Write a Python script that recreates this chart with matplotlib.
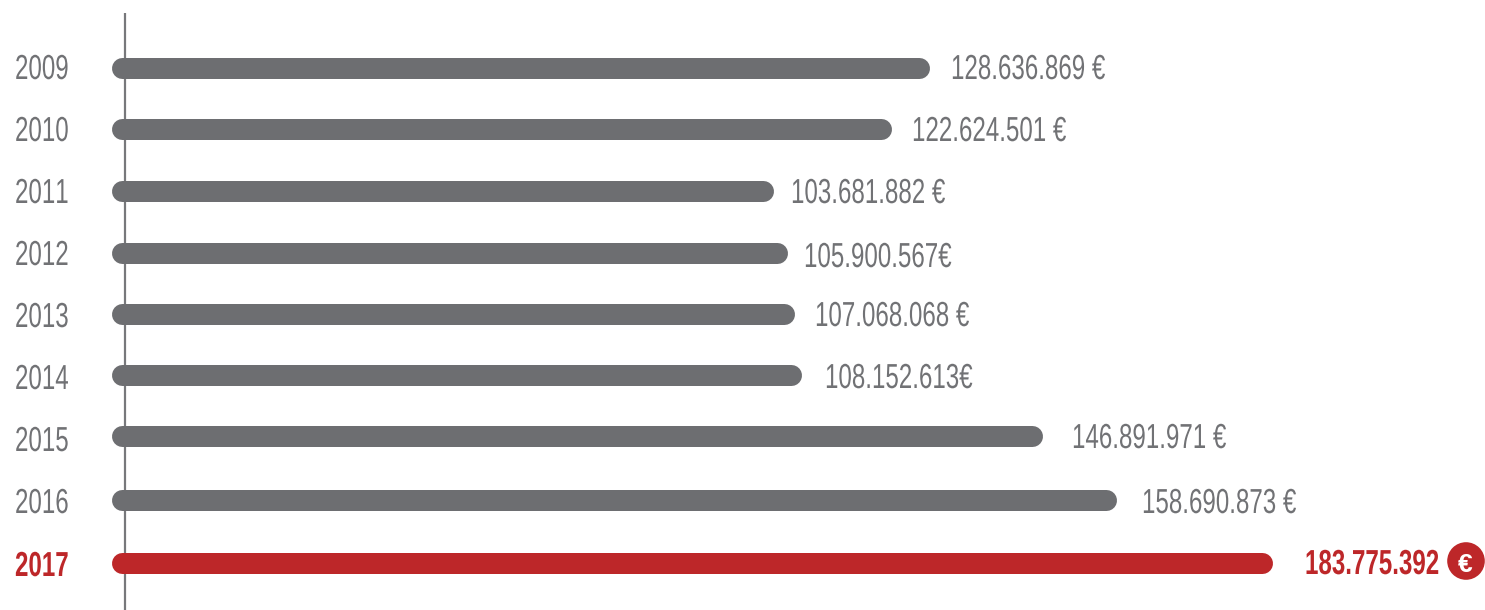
import matplotlib
matplotlib.use("Agg")
import matplotlib.pyplot as plt
from matplotlib.patches import Circle
from matplotlib.patheffects import AbstractPathEffect
from matplotlib.text import Text
from matplotlib.transforms import Affine2D, Bbox

plt.rcParams["text.kerning_factor"] = 6

years = ["2009", "2010", "2011", "2012", "2013", "2014", "2015", "2016", "2017"]
values = [128636869, 122624501, 103681882, 105900567, 107068068, 108152613, 146891971, 158690873, 183775392]
labels = ["128.636.869 €", "122.624.501 €", "103.681.882 €", "105.900.567€", "107.068.068 €",
          "108.152.613€", "146.891.971 €", "158.690.873 €", "183.775.392"]

bar_y = [68, 129, 191, 253, 314, 375, 436, 500, 563]
year_y = [66, 128, 190, 252, 314, 376, 438, 500, 563]
label_y = [66, 128, 190, 254, 313, 375, 435, 500, 561]
label_x = [951, 912, 791, 804, 815, 825, 1072, 1142, 1305]

GREY, RED, AXIS = "#6d6e71", "#bd2729", "#77787b"
TXT = "#717275"
FONT = ["Liberation Sans"]
W, H = 1485, 610
PX_PER_VAL = 6.22e-6
X0 = 129
SQUEEZE = 0.695


class Condense(AbstractPathEffect):
    """Draw text glyphs horizontally condensed (no condensed family is installed)."""
    def __init__(self, k):
        super().__init__()
        self.k = k

    def draw_path(self, renderer, gc, tpath, affine, rgbFace=None):
        renderer.draw_path(gc, tpath, Affine2D().scale(self.k, 1) + affine, rgbFace)


class NarrowText(Text):
    def _get_layout(self, renderer):
        b, info, descent = super()._get_layout(renderer)
        return Bbox.from_bounds(b.x0, b.y0, b.width * SQUEEZE, b.height), info, descent


fig = plt.figure(figsize=(W / 100, H / 100), dpi=100, facecolor="white")
ax = fig.add_axes([0, 0, 1, 1])
ax.set_xlim(-X0 / PX_PER_VAL, (W - X0) / PX_PER_VAL)
ax.set_ylim(H, 0)
ax.axis("off")

pxv = 1 / PX_PER_VAL
lw = 21 * 72 / 100


def label(x, y, s, bold):
    t = NarrowText(x, y, s, family=FONT, fontsize=25, color=RED if bold else TXT,
                   fontweight="bold" if bold else "normal", ha="left", va="center_baseline",
                   path_effects=[Condense(SQUEEZE)])
    ax.add_artist(t)


ax.plot([(125 - X0) * pxv] * 2, [13, 610], color=AXIS, lw=1.6, zorder=1, solid_capstyle="butt")
for i, v in enumerate(values):
    last = i == len(values) - 1
    ax.plot([(121.5 - X0) * pxv, v - 10.5 * pxv], [bar_y[i]] * 2, color=RED if last else GREY, lw=lw,
            solid_capstyle="round", zorder=2)
    label((15 - X0) * pxv, year_y[i], years[i], last)
    label((label_x[i] - X0) * pxv, label_y[i], labels[i], last)

fig.add_artist(Circle((1466, H - 561), 18.8, transform=None, facecolor=RED, edgecolor="none"))
fig.text(1465.5 / W, 1 - 562 / H, "€", family=FONT, fontweight="bold", fontsize=19, color="white",
         ha="center", va="center_baseline")
fig.savefig("out.png", dpi=100)
